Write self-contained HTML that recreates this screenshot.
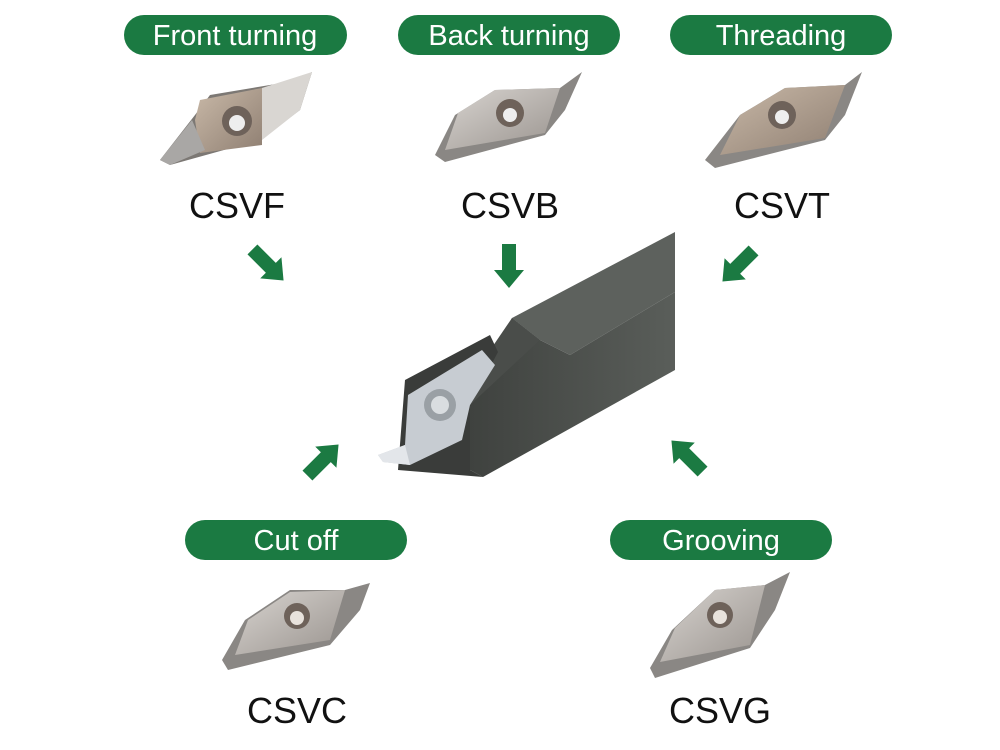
<!DOCTYPE html>
<html><head><meta charset="utf-8"><style>
body{margin:0;background:#fff;}
svg{display:block;}
text{font-family:"Liberation Sans",sans-serif;}
</style></head><body>
<svg width="1000" height="750" viewBox="0 0 1000 750">
<defs>
<linearGradient id="ins" x1="0" y1="0" x2="1" y2="1"><stop offset="0" stop-color="#d8d4d0"/><stop offset="1" stop-color="#9a948f"/></linearGradient>
<linearGradient id="tan" x1="0" y1="0" x2="1" y2="1"><stop offset="0" stop-color="#c9b9a8"/><stop offset="1" stop-color="#8f7f72"/></linearGradient>
<linearGradient id="bar" x1="0" y1="0" x2="1" y2="0"><stop offset="0" stop-color="#3f423f"/><stop offset="1" stop-color="#5a5e5a"/></linearGradient>
</defs>
<g fill="#1b7a42">
<rect x="124" y="15" width="223" height="40" rx="20"/>
<rect x="398" y="15" width="222" height="40" rx="20"/>
<rect x="670" y="15" width="222" height="40" rx="20"/>
<rect x="185" y="520" width="222" height="40" rx="20"/>
<rect x="610" y="520" width="222" height="40" rx="20"/>
</g>
<g fill="#fff" font-size="29" text-anchor="middle">
<text x="235" y="45">Front turning</text>
<text x="509" y="45">Back turning</text>
<text x="781" y="45">Threading</text>
<text x="296" y="550">Cut off</text>
<text x="721" y="550">Grooving</text>
</g>
<g fill="#111" font-size="36" text-anchor="middle">
<text x="237" y="218">CSVF</text>
<text x="510" y="218">CSVB</text>
<text x="782" y="218">CSVT</text>
<text x="297" y="723">CSVC</text>
<text x="720" y="723">CSVG</text>
</g>
<!-- arrows -->
<g fill="#1b7a42">
<polygon points="-22,-7 4,-7 4,-15 22,0 4,15 4,7 -22,7" transform="translate(268,265) rotate(45)"/>
<polygon points="-22,-7 4,-7 4,-15 22,0 4,15 4,7 -22,7" transform="translate(509,266) rotate(90)"/>
<polygon points="-22,-7 4,-7 4,-15 22,0 4,15 4,7 -22,7" transform="translate(738,266) rotate(135)"/>
<polygon points="-22,-7 4,-7 4,-15 22,0 4,15 4,7 -22,7" transform="translate(323,460) rotate(-45)"/>
<polygon points="-22,-7 4,-7 4,-15 22,0 4,15 4,7 -22,7" transform="translate(687,456) rotate(-135)"/>
</g>
<!-- top inserts -->
<g>
<polygon points="160,160 195,115 210,95 300,80 312,72 300,110 260,140 170,165" fill="#7c7874"/>
<polygon points="200,100 262,88 262,145 200,153 195,120" fill="url(#tan)"/>
<polygon points="262,88 312,72 300,110 262,140" fill="#d9d6d2"/>
<polygon points="160,160 192,120 205,150 170,165" fill="#a9a7a5"/>
<circle cx="237" cy="121" r="15" fill="#6e625a"/><circle cx="237" cy="123" r="8" fill="#eee"/>
</g>
<g>
<polygon points="435,155 455,115 495,90 560,88 582,72 565,110 545,135 445,162" fill="#8a8784"/>
<polygon points="458,113 495,90 560,88 545,133 445,150" fill="url(#ins)"/>
<circle cx="510" cy="113" r="14" fill="#6e625a"/><circle cx="510" cy="115" r="7" fill="#eee"/>
</g>
<g>
<polygon points="705,160 740,115 785,88 845,85 862,72 845,115 825,140 715,168" fill="#8a8784"/>
<polygon points="740,115 785,88 845,85 825,138 720,155" fill="url(#tan)"/>
<circle cx="782" cy="115" r="14" fill="#6e625a"/><circle cx="782" cy="117" r="7" fill="#eee"/>
</g>
<!-- bottom inserts -->
<g>
<polygon points="222,660 245,620 290,590 345,590 370,583 360,610 330,645 228,670" fill="#8a8784"/>
<polygon points="248,620 290,592 345,590 330,640 235,655" fill="url(#ins)"/>
<circle cx="297" cy="616" r="13" fill="#6e625a"/><circle cx="297" cy="618" r="7" fill="#e8e2dc"/>
</g>
<g>
<polygon points="650,668 672,630 715,590 765,585 790,572 775,610 750,648 655,678" fill="#8a8784"/>
<polygon points="675,628 715,590 765,585 750,645 660,662" fill="url(#ins)"/>
<circle cx="720" cy="615" r="13" fill="#6e625a"/><circle cx="720" cy="617" r="7" fill="#e8e2dc"/>
</g>
<!-- central tool -->
<g>
<polygon points="512,318 675,232 675,292 570,355 540,340" fill="#5d615d"/>
<polygon points="470,405 512,318 540,340 570,355 675,292 675,370 483,477 470,470" fill="url(#bar)"/>
<polygon points="512,318 540,340 470,405 480,365" fill="#4a4d4a"/>
<polygon points="398,470 405,380 490,335 498,352 470,405 470,470 483,477" fill="#3a3c3a"/>
<polygon points="378,455 405,445 408,395 482,350 495,365 470,405 462,440 410,465 383,462" fill="#c7ccd2"/>
<polygon points="378,455 405,445 410,465 383,462" fill="#e3e6ea"/>
<circle cx="440" cy="405" r="16" fill="#9aa0a5"/><circle cx="440" cy="405" r="9" fill="#d9dde0"/>
</g>
</svg>
</body></html>
